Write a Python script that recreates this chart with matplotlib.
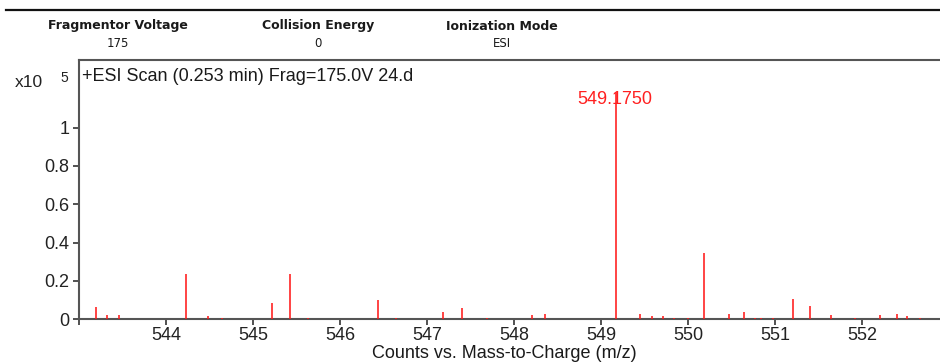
import matplotlib
matplotlib.use("Agg")
import matplotlib.pyplot as plt

# Peak list (m/z, abundance in units of 1e5 counts)
mz = [543.196, 543.322, 543.457, 544.233, 544.479, 544.643, 545.221, 545.425,
      545.635, 546.439, 546.642, 547.186, 547.397, 547.684, 548.202, 548.354,
      549.175, 549.449, 549.587, 549.710, 549.833, 549.999, 550.183, 550.468,
      550.643, 550.770, 550.836, 550.970, 551.203, 551.399, 551.638, 551.915,
      552.199, 552.398, 552.510, 552.663]
counts = [0.062, 0.021, 0.021, 0.236, 0.016, 0.007, 0.085, 0.236,
          0.006, 0.099, 0.006, 0.038, 0.057, 0.006, 0.022, 0.029,
          1.178, 0.029, 0.016, 0.016, 0.008, 0.008, 0.347, 0.029,
          0.038, 0.008, 0.008, 0.008, 0.106, 0.071, 0.022, 0.008,
          0.022, 0.029, 0.016, 0.008]

base_peak_mz = 549.175
base_peak_label = "549.1750"

x_ticks = [543, 544, 545, 546, 547, 548, 549, 550, 551, 552]
x_tick_labels = ["", "544", "545", "546", "547", "548", "549", "550", "551", "552"]
y_ticks = [0, 0.2, 0.4, 0.6, 0.8, 1.0]
y_tick_labels = ["0", "0.2", "0.4", "0.6", "0.8", "1"]

header_titles = ["Fragmentor Voltage", "Collision Energy", "Ionization Mode"]
header_values = ["175", "0", "ESI"]

scan_title = "+ESI Scan (0.253 min) Frag=175.0V 24.d"
x_label = "Counts vs. Mass-to-Charge (m/z)"

W, H = 940, 362
plt.rcParams["font.family"] = ["Liberation Sans", "DejaVu Sans"]

fig = plt.figure(figsize=(W / 100, H / 100), dpi=100)


def px(x, y):
    """Pixel position (from top-left) to figure fraction."""
    return x / W, 1 - y / H


# Header block
fig.add_artist(plt.Line2D([6 / W, 1], [1 - 10 / H] * 2, color="#111111", lw=1.6))
header_x = [117.5, 318, 502]
for hx, title, value in zip(header_x, header_titles, header_values):
    fig.text(*px(hx, 26), title, ha="center", va="center", fontsize=9,
             fontweight="bold", family="DejaVu Sans", color="#1a1a1a")
    fig.text(*px(hx, 43.5), value, ha="center", va="center", fontsize=8.5,
             family="DejaVu Sans", color="#1a1a1a")

# Spectrum axes
left, right, top, bottom = 79, 940, 59.5, 319.3
ax = fig.add_axes([left / W, 1 - bottom / H, (right - left) / W, (bottom - top) / H])
ax.set_xlim(543.0, 543.0 + (right - left) / 87.04)
ax.set_ylim(0, (bottom - top) / 191.8)

ax.vlines(mz, 0, counts, color="#ff1a1a", lw=1.15, zorder=3)

ax.set_xticks(x_ticks)
ax.set_xticklabels(x_tick_labels)
ax.set_yticks(y_ticks)
ax.set_yticklabels(y_tick_labels)

spine_c = "#555555"
for s in ["left", "bottom", "top"]:
    ax.spines[s].set_color(spine_c)
    ax.spines[s].set_linewidth(1.5)
ax.spines["right"].set_visible(False)
ax.tick_params(axis="both", direction="out", length=4, width=1.2, color="#333333",
               labelsize=13, labelcolor="#222222")
ax.tick_params(axis="x", pad=1.5)
ax.tick_params(axis="y", pad=3)

# Base peak annotation
bp_h = counts[mz.index(base_peak_mz)]
ax.annotate(base_peak_label, xy=(base_peak_mz, bp_h), xytext=(-1.5, -6),
            textcoords="offset pixels", ha="center", va="center",
            fontsize=13, color="#ff2020", zorder=4)

fig.text(*px(82, 76.5), scan_title, ha="left", va="center", fontsize=13, color="#1a1a1a")
fig.text(*px(43, 82.5), "x10", ha="right", va="center", fontsize=12.5, color="#222222")
fig.text(*px(60, 78), "5", ha="left", va="center", fontsize=10, color="#222222")
fig.text(*px(504, 353), x_label, ha="center", va="center", fontsize=13, color="#1a1a1a")

fig.savefig("out.png", dpi=100)
